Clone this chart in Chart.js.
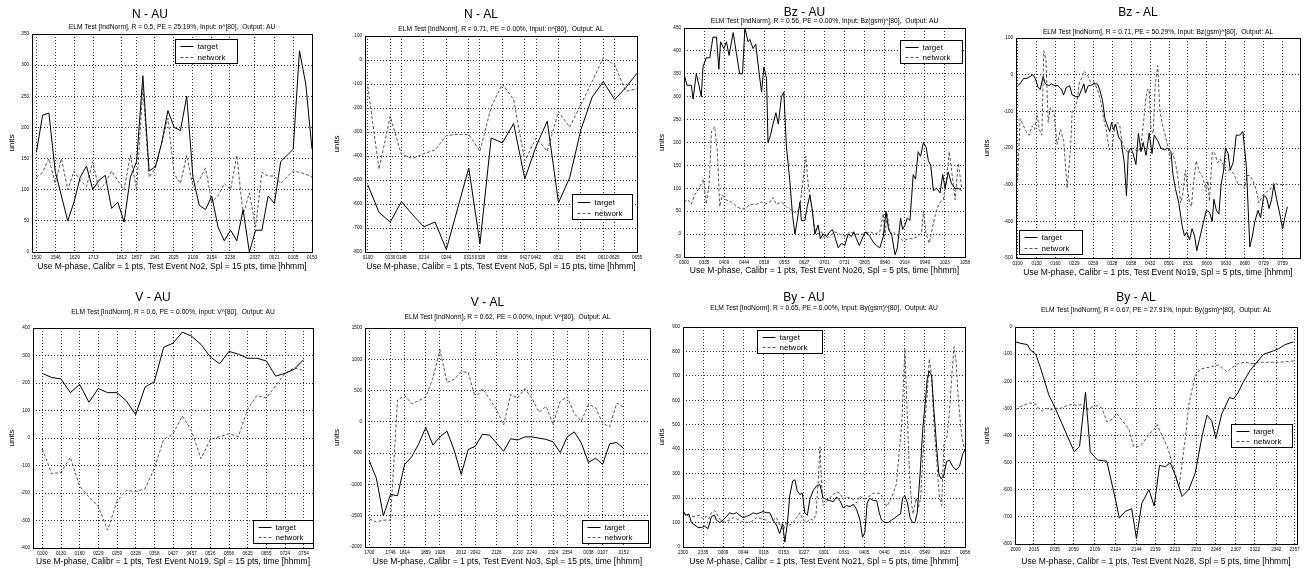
<!DOCTYPE html>
<html>
<head>
<meta charset="utf-8">
<script src="https://cdn.jsdelivr.net/npm/chart.js@4.4.1/dist/chart.umd.min.js"></script>
<style>
  html, body { margin: 0; padding: 0; background: #fff; }
  #wrap { position: relative; width: 1307px; height: 571px; overflow: hidden; background: #fff; }
  #wrap canvas { position: absolute; }
</style>
</head>
<body>
<div id="wrap"></div>
<script>
// ---- N - AU (one value per sample) ----
const nauLabels = ["1500","1546","1629","1713","1812","1857","1941","2025","2109","2154","2238","2337","0021","0105","0150"];
const nauTicks = [0,3.1,6.1,9.1,13.6,16,18.9,21.9,25,28,30.9,34.9,38,41,44];
const nauTarget = [160,220,223,130,90,50,80,120,138,100,115,123,70,80,48,120,145,283,130,137,175,227,200,195,250,120,75,68,90,40,18,35,18,68,0,35,35,90,78,145,155,165,323,270,165];
const nauNetwork = [120,128,150,110,150,100,130,115,105,145,100,110,130,115,100,155,100,265,120,135,175,215,125,110,155,105,115,135,80,90,110,100,155,60,95,40,128,122,122,110,120,130,128,125,120];

// ---- N - AL ----
const nalLabels = ["0100","0130","0145","0214","0244","0313","0328","0358","0427","0442","0511","0541","0610","0625","0655"];
const nalTicks = [0,2,3,5,7,9,10,12,14,15,17,19,21,22,24];
const nalTarget = [-520,-635,-675,-590,-645,-695,-675,-790,-620,-450,-765,-325,-345,-265,-495,-360,-255,-595,-490,-290,-155,-90,-165,-115,-55];
const nalNetwork = [-110,-455,-235,-395,-410,-390,-375,-315,-310,-310,-380,-195,-100,-165,-420,-325,-380,-215,-280,-185,-90,10,-20,-130,-120];

// ---- Bz - AU (sample index, value) ----
const bzauLabels = ["0300","0335","0409","0444","0518","0553","0627","0701","0731","0805","0840","0914","0949","1023","1058"];
const bzauTicks = [0,6.9,13.7,20.6,27.4,34.3,41.1,48,54.9,61.7,68.6,75.4,82.3,89.1,96];
const bzauTargetX = [0,1.0,2.5,3.1,4.2,5.1,5.9,6.5,7.6,8.8,9.9,11.1,11.9,12.5,13.6,14.5,15.4,16.8,17.9,19.0,20.0,20.8,21.9,22.5,23.6,24.5,25.7,26.5,27.3,28.2,28.7,29.5,30.4,31.4,32.2,33.3,34.1,35.0,36.1,37.1,37.9,38.7,39.6,40.1,41.3,42.1,43.0,43.9,44.7,45.8,46.6,47.5,48.7,49.8,50.7,51.5,52.7,53.8,54.9,56.1,57.2,58.0,58.9,59.9,61.2,62.1,63.5,64.9,65.8,66.9,68.1,69.0,69.9,70.9,72.1,72.9,74.0,74.7,75.5,76.3,77.2,78.3,79.1,80.0,80.8,81.8,82.7,83.5,84.3,85.2,86.3,87.5,88.4,89.2,90.3,91.4,92.6,93.7,94.9];
const bzauTargetY = [350,325,325,295,350,325,300,365,385,385,430,430,360,420,405,420,390,440,395,350,350,450,420,425,405,415,350,310,365,340,200,215,240,265,240,300,310,190,120,40,0,30,70,30,30,60,85,50,0,20,-10,0,-5,5,10,-5,-30,-20,-25,0,-5,5,-10,-25,-5,5,-5,-20,-25,-30,-5,50,10,0,-45,-30,35,10,20,35,30,130,120,180,170,200,190,160,150,95,100,90,130,100,135,110,100,100,95];
const bzauNetworkX = [0,1.4,2.5,3.6,5.1,5.9,6.7,7.6,8.6,9.4,10.5,11.4,12.2,13.1,14.3,16.2,17.9,19.6,20.8,22.5,24.7,26.5,27.6,29.3,30.4,31.6,33.3,35.0,36.1,37.3,38.4,39.6,40.7,41.6,42.4,43.6,44.7,45.8,47.0,48.1,49.8,51.5,53.2,54.9,56.7,58.4,60.1,61.8,63.5,65.2,66.9,68.1,68.6,69.4,70.4,71.5,73.2,74.9,76.6,78.3,80.0,81.2,81.8,82.7,83.8,84.9,86.1,87.5,88.6,89.7,90.6,91.4,92.6,93.7,94.9];
const bzauNetworkY = [70,75,65,85,100,110,120,65,110,225,235,180,60,85,75,70,60,55,55,65,65,70,65,70,80,65,70,60,55,50,45,60,120,170,110,60,10,0,5,-10,-5,5,0,-5,5,0,0,0,5,0,5,45,-5,45,0,5,-5,-15,-10,-10,-5,5,50,0,-20,15,50,70,75,120,180,140,75,155,100];

// ---- Bz - AL ----
const bzalLabels = ["0100","0130","0160","0229","0259","0328","0358","0432","0501","0531","0600","0630","0660","0729","0759"];
const bzalTicks = [0,6,12,18,24,30,36,42,48,54,60,66,72,78,84];
const bzalTargetX = [0,0.8,1.9,3.0,4.0,4.8,5.6,6.5,7.2,8.1,8.8,9.9,10.7,11.8,12.8,13.9,14.6,15.4,16.5,17.3,18.4,19.4,20.3,21.0,21.5,22.4,23.1,24.2,25.3,26.0,26.9,27.7,28.5,29.2,29.8,30.4,31.1,32.0,32.8,33.8,34.5,35.1,35.9,36.6,37.5,38.3,39.1,39.8,40.7,41.7,42.6,43.3,44.4,45.4,46.5,47.6,48.6,49.2,50.0,51.1,52.1,52.9,53.6,54.5,55.3,56.1,56.8,57.6,58.7,59.8,60.8,61.7,62.2,63.0,63.8,64.5,65.3,65.9,66.7,67.4,68.3,69.3,70.4,71.4,72.5,73.6,74.4,75.2,76.2,77.0,78.0,78.9,79.7,80.5,81.2,82.1,83.1,84.0,84.7,85.5];
const bzalTargetY = [-30,-25,-10,-10,-5,0,-10,-35,-40,-5,-25,-30,-25,-30,-30,-40,-55,-35,-30,-55,-60,-60,-40,-25,-50,-30,-30,-25,-25,-40,-70,-120,-140,-155,-130,-150,-135,-170,-180,-240,-330,-210,-200,-215,-245,-160,-210,-185,-220,-160,-215,-165,-180,-200,-205,-200,-210,-270,-310,-350,-410,-440,-430,-450,-420,-440,-480,-450,-410,-370,-375,-400,-340,-370,-380,-300,-260,-200,-215,-260,-240,-165,-165,-155,-250,-470,-440,-400,-370,-390,-330,-335,-365,-340,-300,-340,-380,-420,-390,-360];
const bzalNetworkX = [0,0.8,1.9,3.0,3.7,4.6,5.4,6.2,6.9,7.7,8.3,9.0,9.7,10.4,11.5,12.5,13.6,14.6,15.7,16.8,17.3,18.2,18.9,19.6,20.3,21.0,22.1,23.1,24.2,25.3,26.3,27.4,28.1,29.0,30.0,30.9,31.6,32.4,33.2,34.1,35.1,36.2,37.3,38.3,39.1,39.8,40.7,41.2,41.7,42.3,43.0,43.6,44.4,45.1,46.0,46.8,47.7,48.3,49.2,50.0,50.8,51.7,52.3,53.2,53.8,54.5,55.1,55.7,56.6,57.6,58.7,59.8,60.3,60.8,61.7,62.5,63.4,64.2,65.1,65.9,67.2,68.5,69.9,70.9,72.0,72.7,73.6,74.4,75.5,76.5,77.6,78.9,79.9,81.2,82.6,84.0,85.5];
const bzalNetworkY = [-290,-120,-140,-160,-165,-140,-150,-110,-150,-165,65,40,-130,-90,-100,-190,-150,-180,-310,-200,-100,-90,-70,-20,-10,10,0,-20,-20,-40,-70,-125,-150,-205,-195,-135,-130,-140,-190,-200,-215,-200,-205,-210,-190,-140,-60,-40,-40,-150,-160,-30,25,-100,-140,-165,-200,-230,-215,-240,-280,-350,-330,-260,-310,-350,-360,-300,-235,-265,-280,-320,-290,-345,-210,-215,-240,-230,-245,-260,-260,-270,-300,-300,-310,-275,-275,-285,-310,-350,-330,-320,-315,-295,-300,-300,-300];

// ---- V - AU ----
const vauLabels = ["0100","0130","0160","0229","0259","0328","0358","0427","0457","0526","0556","0625","0655","0724","0754"];
const vauTicks = [0,2,4,6,8,10,12,14,16,18,20,22,24,26,28];
const vauTarget = [235,220,215,165,195,130,180,165,165,135,85,185,205,330,345,385,370,340,295,270,315,305,290,290,280,225,235,250,285];
const vauNetwork = [-40,-130,-125,-70,-175,-215,-250,-335,-230,-190,-195,-185,-110,-5,15,80,25,-75,-5,5,15,5,105,155,145,190,235,255,245];

// ---- V - AL ----
const valLabels = ["1700","1746","1814","1859","1928","2012","2042","2126","2210","2240","2324","2354","0038","0107","0152"];
const valTicks = [0,3,5,8,10,13,15,18,21,23,26,28,31,33,36];
const valTarget = [-620,-900,-1500,-1160,-1180,-680,-560,-350,-90,-370,-240,-150,-450,-840,-440,-390,-200,-210,-340,-470,-270,-290,-240,-240,-260,-280,-320,-490,-240,-160,-340,-650,-580,-680,-350,-330,-430];
const valNetwork = [-1550,-1600,-1570,-1570,350,420,290,340,400,700,1150,630,680,800,790,380,530,370,200,-50,440,380,530,380,150,250,-40,330,400,130,10,280,230,-20,-80,300,230];

// ---- By - AU ----
const byauLabels = ["2300","2335","0009","0044","0118","0153","0227","0301","0331","0405","0440","0514","0549","0623","0658"];
const byauTicks = [0,7,14,21,28,35,42,49,56,63,70,77,84,91,98];
const byauTargetX = [0,0.9,2.1,2.9,4.1,5.2,6.4,7.5,8.7,9.9,11.0,11.6,12.8,13.9,15.1,16.2,17.4,18.6,19.7,20.9,22.0,23.2,24.4,25.5,26.7,27.8,29.0,30.2,31.3,32.5,33.6,34.6,35.4,36.3,37.1,38.1,38.9,39.7,40.6,41.5,42.3,43.2,44.1,45.2,46.4,47.6,48.7,49.9,51.0,52.2,53.4,54.5,55.7,56.8,58.0,59.2,60.3,61.5,62.4,63.2,64.0,64.9,66.1,67.3,68.2,69.0,70.2,71.3,72.5,73.7,74.8,75.6,76.3,77.1,78.0,78.9,79.8,80.6,81.4,82.4,83.3,84.1,84.9,85.6,86.4,87.2,88.2,88.9,89.6,90.5,91.6,92.6,93.7,94.9,96.1,97.2,98.0];
const byauTargetY = [150,130,135,100,90,80,80,85,75,125,130,110,100,110,125,140,135,140,130,120,125,130,140,135,140,145,140,140,110,90,55,95,20,100,210,270,275,230,215,220,140,130,195,230,250,255,200,195,190,185,205,190,160,170,165,175,155,110,40,60,180,200,190,190,140,110,100,100,110,120,130,135,200,210,180,120,100,100,140,300,480,580,690,720,700,560,400,300,280,285,350,355,330,315,330,380,400];
const byauNetworkX = [0,1.2,2.3,4.1,5.8,7.0,8.1,9.0,9.9,11.0,12.2,13.3,14.5,16.2,17.4,18.6,20.3,22.0,23.8,25.5,27.3,29.0,30.2,31.3,32.5,33.6,34.8,36.0,37.1,38.3,39.4,40.6,41.8,42.9,44.1,45.2,46.2,47.0,47.6,48.1,48.7,49.9,51.0,52.2,53.4,54.5,55.7,56.8,58.0,59.2,60.3,61.5,62.6,63.8,65.0,66.1,67.3,68.4,69.6,70.8,71.9,73.1,74.2,75.2,76.0,76.6,77.1,77.7,78.7,79.5,80.0,81.0,81.8,82.6,83.3,84.1,84.9,85.6,86.4,87.2,88.2,89.1,89.9,90.7,91.6,92.6,93.4,94.2,94.9,95.7,96.9,98.0];
const byauNetworkY = [140,130,125,125,130,115,125,115,140,150,125,105,105,110,120,115,105,100,105,120,115,110,100,110,120,90,70,100,90,100,120,140,110,100,115,110,130,270,410,270,170,185,200,215,225,220,195,205,200,195,180,210,195,200,210,220,220,220,200,165,190,220,260,400,500,660,810,620,300,170,135,200,160,200,360,520,630,770,700,500,350,200,170,430,440,550,700,820,760,600,450,390];

// ---- By - AL ----
const byalLabels = ["2000","2015","2035","2050","2109","2124","2144","2159","2213","2233","2248","2307","2322","2342","2357"];
const byalTicks = [0,3.1,6.6,9.8,13.4,16.9,20.4,23.6,26.9,30.5,33.8,37.2,40.4,44.0,47.1];
const byalTargetX = [0,0.8,2.0,2.5,3.4,4.2,5.6,6.7,8.7,9.9,10.8,11.8,12.6,13.8,15.4,16.9,17.5,18.5,19.6,20.4,21.3,22.5,23.4,24.3,25.3,26.1,27.0,28.1,29.2,30.3,31.5,32.3,33.1,33.8,34.8,36.1,36.8,37.6,38.5,39.6,40.7,41.9,43.3,44.4,45.5,46.9];
const byalTargetY = [-55,-60,-65,-85,-100,-150,-250,-300,-400,-460,-440,-240,-460,-490,-495,-640,-705,-680,-670,-780,-650,-600,-660,-510,-515,-500,-550,-625,-600,-540,-400,-325,-345,-410,-320,-260,-265,-240,-200,-160,-130,-100,-90,-80,-65,-55];
const byalNetworkX = [0,1.1,2.5,3.4,3.9,4.5,5.1,5.9,6.7,7.6,8.7,9.6,10.4,11.2,12.1,12.9,13.8,14.6,15.4,16.3,17.1,18.0,19.1,19.9,20.8,21.6,22.5,23.3,23.9,24.7,25.6,26.4,27.2,27.6,28.1,28.7,29.2,29.8,30.3,31.2,32.3,33.4,34.3,35.1,35.7,36.5,37.6,38.8,39.9,41.0,42.7,44.4,47.1];
const byalNetworkY = [-305,-290,-280,-285,-300,-310,-300,-305,-300,-300,-290,-285,-290,-285,-305,-295,-290,-300,-350,-340,-320,-345,-375,-440,-440,-425,-395,-380,-360,-400,-440,-500,-560,-590,-500,-400,-290,-230,-180,-155,-150,-145,-140,-155,-165,-150,-135,-130,-135,-130,-130,-130,-125];

const FONT = '"Liberation Sans", Arial, Helvetica, sans-serif';

const bySample = vals => vals.map((v, i) => ({ x: i, y: v }));
const byPairs = (xs, ys) => xs.map((x, i) => ({ x: x, y: ys[i] }));
const sub = (r, pe, inp, out) => `ELM Test [IndNorm], R = ${r}, PE = ${pe}%, Input: ${inp}^[80],  Output: ${out}`;
const xlab = (ev, spl) => `Use M-phase, Calibr = 1 pts, Test Event No${ev}, Spl = ${spl} pts, time [hhmm]`;

const panels = [
  { title: "N - AU", sub: sub("0.5", "25.19", "n", "AU"), xTitle: xlab(2, 15),
    labels: nauLabels, ticks: nauTicks, xMin: -0.7, xMax: 44, yMin: 0, yMax: 350, yStep: 50,
    target: bySample(nauTarget), network: bySample(nauNetwork),
    rowTop: 0, rowH: 285, area: { L: 32, R: 312, T: 34, B: 252 }, titleX: 157, titleY: 15, subY: 27, xTitleY: 267, unitsX: 12,
    legend: { x: 143, y: 5, w: 62, h: 24 } },
  { title: "N - AL", sub: sub("0.71", "0.00", "n", "AL"), xTitle: xlab(5, 15),
    labels: nalLabels, ticks: nalTicks, xMin: -0.25, xMax: 24, yMin: -800, yMax: 100, yStep: 100,
    target: bySample(nalTarget), network: bySample(nalNetwork),
    rowTop: 0, rowH: 285, area: { L: 365, R: 637, T: 36, B: 252 }, titleX: 488, titleY: 15, subY: 29, xTitleY: 267, unitsX: 337,
    legend: { x: 207, y: 158, w: 60, h: 25 } },
  { title: "Bz - AU", sub: sub("0.56", "0.00", "Bz(gsm)", "AU"), xTitle: xlab(26, 5),
    labels: bzauLabels, ticks: bzauTicks, xMin: 0, xMax: 96, yMin: -50, yMax: 450, yStep: 50,
    target: byPairs(bzauTargetX, bzauTargetY), network: byPairs(bzauNetworkX, bzauNetworkY),
    rowTop: 0, rowH: 285, area: { L: 684, R: 965, T: 28, B: 257 }, titleX: 817, titleY: 13, subY: 21.5, xTitleY: 271, unitsX: 662,
    legend: { x: 216, y: 12, w: 62, h: 23 } },
  { title: "Bz - AL", sub: sub("0.71", "50.29", "Bz(gsm)", "AL"), xTitle: xlab(19, 5),
    labels: bzalLabels, ticks: bzalTicks, xMin: -0.5, xMax: 89.5, yMin: -500, yMax: 100, yStep: 100,
    target: byPairs(bzalTargetX, bzalTargetY), network: byPairs(bzalNetworkX, bzalNetworkY),
    rowTop: 0, rowH: 285, area: { L: 1016, R: 1300, T: 38, B: 258 }, titleX: 1152, titleY: 13, subY: 32, xTitleY: 273, unitsX: 987,
    legend: { x: 3, y: 192, w: 63, h: 24 } },
  { title: "V - AU", sub: sub("0.6", "0.00", "V", "AU"), xTitle: xlab(19, 15),
    labels: vauLabels, ticks: vauTicks, xMin: -1, xMax: 29, yMin: -400, yMax: 400, yStep: 100,
    target: bySample(vauTarget), network: bySample(vauNetwork),
    rowTop: 285, rowH: 286, area: { L: 33, R: 313, T: 328, B: 548 }, titleX: 163, titleY: 298, subY: 312, xTitleY: 562, unitsX: 12,
    legend: { x: 220, y: 192, w: 60, h: 23 } },
  { title: "V - AL", sub: sub("0.62", "0.00", "V", "AL"), xTitle: xlab(3, 15),
    labels: valLabels, ticks: valTicks, xMin: -0.6, xMax: 39.7, yMin: -2000, yMax: 1500, yStep: 500,
    target: bySample(valTarget), network: bySample(valNetwork),
    rowTop: 285, rowH: 286, area: { L: 365, R: 650, T: 328, B: 547 }, titleX: 498, titleY: 303, subY: 317, xTitleY: 562, unitsX: 337,
    legend: { x: 217, y: 192, w: 66, h: 23 } },
  { title: "By - AU", sub: sub("0.65", "0.00", "By(gsm)", "AU"), xTitle: xlab(21, 5),
    labels: byauLabels, ticks: byauTicks, xMin: 0, xMax: 98, yMin: 0, yMax: 900, yStep: 100,
    target: byPairs(byauTargetX, byauTargetY), network: byPairs(byauNetworkX, byauNetworkY),
    rowTop: 285, rowH: 286, area: { L: 683, R: 965, T: 327, B: 547 }, titleX: 820, titleY: 298, subY: 308.5, xTitleY: 562, unitsX: 662,
    legend: { x: 74, y: 3, w: 65, h: 23 } },
  { title: "By - AL", sub: sub("0.67", "27.91", "By(gsm)", "AL"), xTitle: xlab(28, 5),
    labels: byalLabels, ticks: byalTicks, xMin: -0.1, xMax: 47.5, yMin: -800, yMax: 0, yStep: 100,
    target: byPairs(byalTargetX, byalTargetY), network: byPairs(byalNetworkX, byalNetworkY),
    rowTop: 285, rowH: 286, area: { L: 1015, R: 1297, T: 327, B: 544 }, titleX: 1145, titleY: 298, subY: 310, xTitleY: 562, unitsX: 987,
    legend: { x: 216, y: 97, w: 61, h: 23 } }
];

// black frame round the plot area, like the matlab axes box
const boxPlugin = {
  id: 'axesBox',
  afterDatasetsDraw(chart) {
    const { ctx, chartArea: a } = chart;
    ctx.save();
    ctx.strokeStyle = '#000';
    ctx.lineWidth = 1;
    ctx.setLineDash([]);
    ctx.strokeRect(Math.round(a.left) + 0.5, Math.round(a.top) + 0.5, Math.round(a.right - a.left), Math.round(a.bottom - a.top));
    ctx.restore();
  }
};

// legend box placed inside the plot area
const legendPlugin = {
  id: 'boxLegend',
  afterDraw(chart, args, o) {
    if (!o || o.w == null) return;
    const { ctx, chartArea: a } = chart;
    const x = Math.round(a.left + o.x) + 0.5, y = Math.round(a.top + o.y) + 0.5;
    ctx.save();
    ctx.fillStyle = '#fff';
    ctx.fillRect(x, y, o.w, o.h);
    ctx.strokeStyle = '#000';
    ctx.lineWidth = 1;
    ctx.setLineDash([]);
    ctx.strokeRect(x, y, o.w, o.h);
    ctx.font = '8px ' + FONT;
    ctx.textBaseline = 'middle';
    ctx.fillStyle = '#000';
    chart.data.datasets.forEach((ds, i) => {
      const cy = Math.round(y + o.h * (i ? 0.72 : 0.28)) + 0.5;
      ctx.strokeStyle = ds.borderColor;
      ctx.setLineDash(ds.borderDash || []);
      ctx.beginPath();
      ctx.moveTo(x + 5, cy);
      ctx.lineTo(x + 18, cy);
      ctx.stroke();
      ctx.fillText(ds.label, x + 22, cy);
    });
    ctx.restore();
  }
};

const wrap = document.getElementById('wrap');

function makePanel(p) {
  const TF = 12, SF = 6.7, XF = 8.5, YF = 8, TKF = 4.6;
  const tLH = TF * 1.2, sLH = SF * 1.2, xLH = XF * 1.2, yLH = YF * 1.2;
  const H = p.rowH;
  const W = Math.ceil(2 * Math.max(p.titleX - (p.area.L - 40), p.area.R + 14 - p.titleX));
  const left = Math.round(p.titleX - W / 2);
  const cv = document.createElement('canvas');
  cv.width = W;
  cv.height = H;
  cv.style.left = left + 'px';
  cv.style.top = p.rowTop + 'px';
  wrap.appendChild(cv);

  const yW = p.area.L - left;
  const xH = p.rowTop + H - p.area.B;
  const gridLine = { color: '#333', lineWidth: 1, drawTicks: false, borderDash: [1, 2] };

  new Chart(cv, {
    type: 'line',
    data: {
      datasets: [
        { label: 'target', data: p.target, borderColor: '#000', borderWidth: 1, pointRadius: 0, tension: 0, fill: false },
        { label: 'network', data: p.network, borderColor: '#555', borderWidth: 1, borderDash: [3, 2], pointRadius: 0, tension: 0, fill: false }
      ]
    },
    options: {
      responsive: false,
      animation: false,
      devicePixelRatio: 1,
      layout: { padding: { left: 0, right: left + W - p.area.R, top: 0, bottom: 0 } },
      plugins: {
        legend: { display: false },
        tooltip: { enabled: false },
        title: {
          display: true, text: p.title, color: '#000',
          font: { family: FONT, size: TF, weight: 'normal', lineHeight: 1.2 },
          padding: { top: p.titleY - p.rowTop - tLH / 2, bottom: (p.subY - sLH / 2) - (p.titleY + tLH / 2) }
        },
        subtitle: {
          display: true, fullSize: false, text: p.sub, color: '#000',
          font: { family: FONT, size: SF, lineHeight: 1.2 },
          padding: { top: 0, bottom: p.area.T - (p.subY + sLH / 2) }
        },
        boxLegend: p.legend
      },
      scales: {
        x: {
          type: 'linear', min: p.xMin, max: p.xMax,
          afterBuildTicks: s => { s.ticks = p.ticks.map(v => ({ value: v })); },
          afterFit: s => { s.height = xH; },
          ticks: {
            autoSkip: false, maxRotation: 0, minRotation: 0, padding: 3, color: '#000',
            font: { family: FONT, size: TKF },
            callback: (v, i) => p.labels[i]
          },
          grid: gridLine,
          border: { display: false, dash: [1, 2] },
          title: {
            display: true, text: p.xTitle, color: '#000',
            font: { family: FONT, size: XF, lineHeight: 1.2 },
            padding: { top: 0, bottom: p.rowTop + H - p.xTitleY - xLH / 2 }
          }
        },
        y: {
          type: 'linear', min: p.yMin, max: p.yMax,
          afterFit: s => { s.width = yW; },
          ticks: {
            stepSize: p.yStep, padding: 3, color: '#000',
            font: { family: FONT, size: TKF },
            callback: v => String(v)
          },
          grid: gridLine,
          border: { display: false, dash: [1, 2] },
          title: {
            display: true, text: 'units', color: '#000',
            font: { family: FONT, size: YF, lineHeight: 1.2 },
            padding: { top: p.unitsX - left - yLH / 2, bottom: 0 }
          }
        }
      }
    },
    plugins: [boxPlugin, legendPlugin]
  });
}

panels.forEach(makePanel);
</script>
</body>
</html>
